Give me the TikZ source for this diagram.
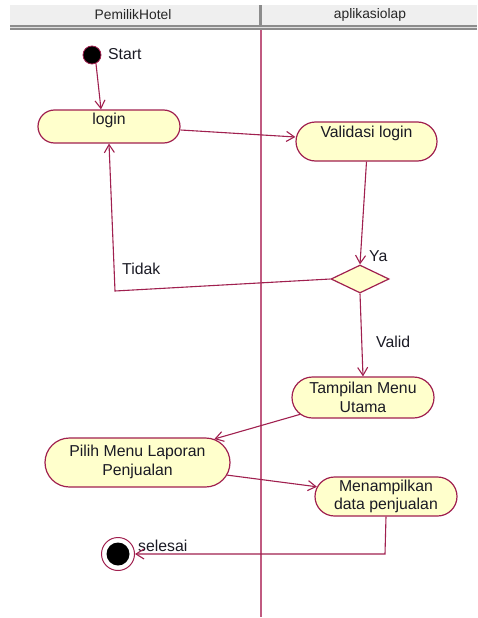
\documentclass[tikz,border=0pt]{standalone}
\usepackage{fontspec}
\setmainfont{Liberation Sans}
\usetikzlibrary{arrows.meta,shapes.misc,shapes.geometric,calc}
\definecolor{wire}{HTML}{A0204F}
\definecolor{lane}{HTML}{C05A80}
\definecolor{actfill}{HTML}{FFFFCC}
\definecolor{headfill}{HTML}{EFEFEF}
\definecolor{headline}{HTML}{8C8C8C}
\definecolor{ink}{HTML}{1A1A24}

\begin{document}
\begin{tikzpicture}[x=1pt,y=-1pt,
  txt/.style={font=\fontsize{15.8}{18.5}\selectfont, text=ink},
  act/.style={rounded rectangle, draw=wire, fill=actfill, line width=1.2pt,
    inner sep=0pt, align=center, txt},
  flow/.style={draw=wire, line width=1.1pt, -{Straight Barb[length=8pt,width=10pt]}},
  lbl/.style={txt, inner sep=0pt, anchor=west},
  headtxt/.style={font=\fontsize{13.8}{16}\selectfont, text=black!85},
  ]
\useasboundingbox (0,0) rectangle (477,618);

% swimlane header
\fill[headfill] (10,5) rectangle (477,25);
\fill[headline] (10,25) rectangle (477,30.5);
\draw[white!75!gray, line width=1pt] (10,27.8) -- (477,27.8);
\fill[headline] (259,5) rectangle (262,25);
\node[headtxt] (laneA) at (133,15) {PemilikHotel};
\node[headtxt] (laneB) at (370,15) {aplikasiolap};

% swimlane separator
\draw[lane, line width=1.6pt] (261,30.5) -- (261,617);

% start / end
\node[circle, fill=black, draw=wire, line width=0.8pt, minimum size=18pt, inner sep=0pt] (start) at (92,55) {};
\node[lbl] (startlbl) at (108,54) {Start};
\node[circle, draw=wire, line width=1pt, minimum size=33pt, inner sep=0pt,
  path picture={\fill[black] (path picture bounding box.center) circle[radius=11.5pt];}] (end) at (118,554) {};
\node[lbl] (endlbl) at (138,546) {selesai};

% activities
\node[act, minimum width=142pt, minimum height=33pt,
  label={[txt, yshift=6.5pt]center:login}] (login) at (109,126.5) {};
\node[act, minimum width=141pt, minimum height=39pt,
  label={[txt, yshift=8.5pt]center:Validasi login}] (val) at (366.5,141.5) {};
\node[diamond, draw=wire, fill=actfill, line width=1.2pt, inner sep=0pt,
  minimum width=58pt, minimum height=28pt] (dec) at (360,279) {};
\node[act, minimum width=142pt, minimum height=41pt] (menu) at (363,397.5) {Tampilan Menu\\Utama};
\node[act, minimum width=185pt, minimum height=49pt, text depth=4pt] (pilih) at (137.5,462.5) {Pilih Menu Laporan\\Penjualan};
\node[act, minimum width=142pt, minimum height=39pt] (men) at (386,496.5) {Menampilkan\\data penjualan};

% guard labels
\node[lbl] (ya) at (369,256) {Ya};
\node[lbl] (tidak) at (122,269) {Tidak};
\node[lbl] (valid) at (376,342) {Valid};

% bend points
\coordinate (tb) at (115,291);
\coordinate (eb) at (385,554);

% flows
\draw[flow] (start.-65) -- ($(login.north)+(-8,0)$);
\draw[flow] ($(login.east)+(0,3.5)$) -- ($(val.west)+(0,-4.5)$);
\draw[flow] (val.south) -- (dec.north);
\draw[flow] (dec.west) -- (tb) -- (login.south);
\draw[flow] (dec.south) -- (menu.north);
\draw[flow] (menu.195) -- (pilih.17);
\draw[flow] (pilih.-8) -- (men.172);
\draw[flow] (men.south) -- (eb) -- (end);
\end{tikzpicture}
\end{document}
